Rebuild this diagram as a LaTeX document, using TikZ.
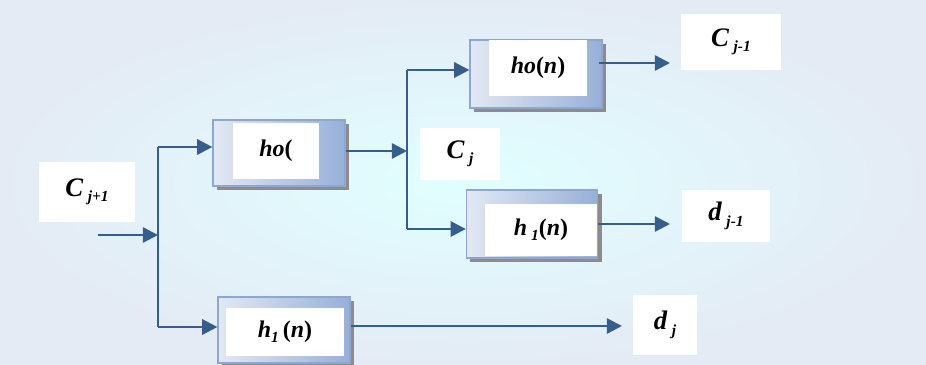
\documentclass[tikz,border=0pt]{standalone}
\usepackage{fontspec}
\setmainfont{Liberation Serif}
\usepackage{tikz}
\usetikzlibrary{positioning,arrows.meta,shadows}
\definecolor{carrow}{HTML}{355E8E}
\definecolor{cboxl}{HTML}{E2E8F3}
\definecolor{cboxd}{HTML}{97B0D8}
\definecolor{cedge}{HTML}{8EA7CF}
\definecolor{cback}{HTML}{E4EBF5}
\newcommand{\bi}[1]{\textbf{\textit{#1}}}
\newcommand{\lowsub}[1]{\raisebox{-0.45ex}{\fontsize{11}{12}\selectfont\bi{#1}}}

\begin{document}
\begin{tikzpicture}[x=0.025cm, y=-0.025cm,
 filt/.style={rectangle, draw=cedge, line width=0.8pt, left color=cboxl, right color=cboxd,
 drop shadow={shadow xshift=0.1cm, shadow yshift=-0.1cm, fill=black!45, opacity=1}},
 inbox/.style={rectangle, fill=white, inner sep=0pt, font=\fontsize{17}{20}\selectfont},
 lab/.style={rectangle, fill=white, inner sep=0pt, font=\fontsize{19}{22}\selectfont},
 a/.style={-{Triangle[length=3.8mm, width=3.8mm]}, draw=carrow, line width=1.7pt},
 l/.style={draw=carrow, line width=1.7pt},
]
 % background
 \shade[inner color=cyan!12, outer color=cback] (0,0) rectangle (926,365);
 \useasboundingbox (0,0) rectangle (926,365);

 % filter boxes
 \node[filt, minimum width=3.3cm, minimum height=1.65cm] (H0) at (279,153) {};
 \node[inbox, minimum width=2.15cm, minimum height=1.375cm] at (276,151) {\bi{ho}\textbf{(}};
 \node[filt, minimum width=3.3cm, minimum height=1.7cm] (H0n) at (536,74) {};
 \node[inbox, minimum width=2.43cm, minimum height=1.375cm] at (538,68) {\bi{ho}\textbf{(}\bi{n}\textbf{)}};
 \node[filt, minimum width=3.28cm, minimum height=1.7cm] (H1n) at (532,224) {};
 \node[inbox, minimum width=2.78cm, minimum height=1.28cm] at (541,230) {\bi{h}\,\lowsub{1}\textbf{(}\bi{n}\textbf{)}};
 \node[filt, minimum width=3.3cm, minimum height=1.65cm] (H1) at (284,330) {};
 \node[inbox, minimum width=2.93cm, minimum height=1.2cm] at (285,332) {\bi{h}\lowsub{1}\,\textbf{(}\bi{n}\textbf{)}};

 % signal labels
 \node[lab, minimum width=2.38cm, minimum height=1.5cm] (Cj1) at (87,192) {\bi{C}\,\lowsub{j+1}};
 \node[lab, minimum width=2.0cm, minimum height=1.3cm] (Cj) at (460,154) {\bi{C}\,\lowsub{j}};
 \node[lab, minimum width=2.48cm, minimum height=1.38cm] (Cjm) at (731,42) {\bi{C}\,\lowsub{j-1}};
 \node[lab, minimum width=2.2cm, minimum height=1.3cm] (Djm) at (726,216) {\bi{d}\,\lowsub{j-1}};
 \node[lab, minimum width=1.6cm, minimum height=1.5cm] (Dj) at (665,325) {\bi{d}\,\lowsub{j}};

 % junctions
 \coordinate (in) at (98,235);
 \coordinate (s1) at (158,235);
 \coordinate (s1t) at (158,147);
 \coordinate (s1b) at (158,327);
 \coordinate (s2) at (407,151);
 \coordinate (s2t) at (407,70);
 \coordinate (s2b) at (407,229);
 \coordinate (o1) at (670,63);
 \coordinate (o2) at (670,224);
 \coordinate (o3) at (622,326);

 \draw[a] (in) -- (s1);
 \draw[l] (s1t) -- (s1b);
 \draw[a] (s1t) -- (s1t -| H0.west);
 \draw[a] (s1b) -- (s1b -| H1.west);
 \draw[a] (H0.east |- s2) -- (s2);
 \draw[l] (s2t) -- (s2b);
 \draw[a] (s2t) -- (s2t -| H0n.west);
 \draw[a] (s2b) -- (s2b -| H1n.west);
 \draw[a] ([xshift=-0.1cm]H0n.east |- o1) -- (o1);
 \draw[a] (H1n.east |- o2) -- (o2);
 \draw[a] (H1.east |- o3) -- (o3);
\end{tikzpicture}
\end{document}
